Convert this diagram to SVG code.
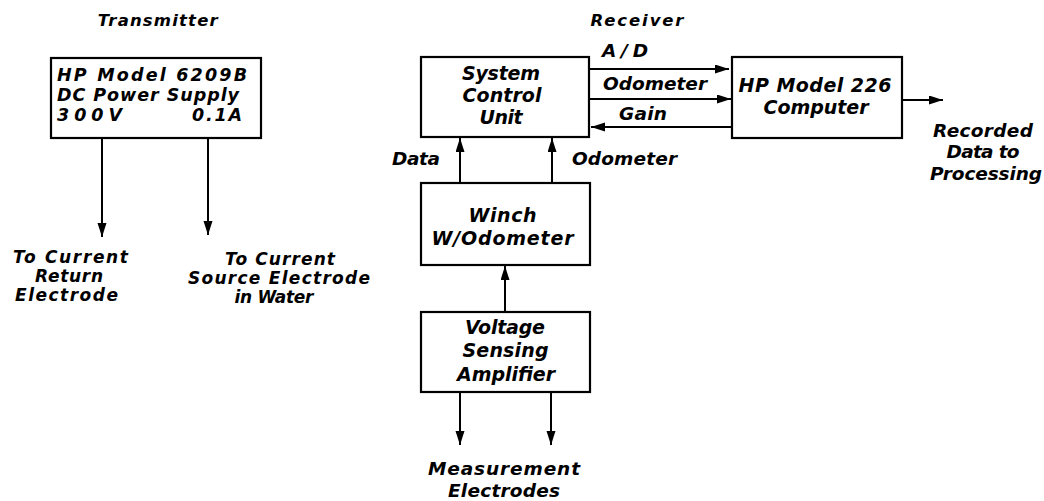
<svg xmlns="http://www.w3.org/2000/svg" width="1044" height="501" viewBox="0 0 1044 501">
<defs>
<marker id="ah" markerUnits="userSpaceOnUse" markerWidth="15" markerHeight="10" refX="14" refY="4.5" orient="auto">
<path d="M0,0 L14,4.5 L0,9 z" fill="#000"/>
</marker>
<style>
text{font-family:"DejaVu Sans","Liberation Sans",sans-serif;font-weight:bold;font-style:italic;fill:#000}
.hd{font-size:16.5px}
.bx{font-size:19px}
.bt{font-size:17.5px}
.lb{font-size:18.5px}
.ls{font-size:17px}
.c{text-anchor:middle}
rect{fill:#fff;stroke:#000;stroke-width:2.2}
.w line{stroke:#000;stroke-width:2;marker-end:url(#ah)}
</style>
</defs>
<rect x="0" y="0" width="1044" height="501" style="fill:#fff;stroke:none"/>

<g id="headers">
<text class="hd c" x="157.7" y="26" textLength="120" lengthAdjust="spacing">Transmitter</text>
<text class="hd c" x="637" y="26" textLength="93" lengthAdjust="spacing">Receiver</text>
</g>

<g id="connectors" class="w">
<line x1="102" y1="138" x2="102" y2="237"/>
<line x1="208" y1="138" x2="208" y2="235"/>
<line x1="589" y1="69" x2="729" y2="69"/>
<line x1="589" y1="99" x2="731" y2="99"/>
<line x1="732" y1="127" x2="591" y2="127"/>
<line x1="902" y1="100" x2="943" y2="100"/>
<line x1="460" y1="183" x2="460" y2="138"/>
<line x1="552" y1="183" x2="552" y2="138"/>
<line x1="505" y1="312" x2="505" y2="266"/>
<line x1="460" y1="392" x2="460" y2="445"/>
<line x1="551" y1="392" x2="551" y2="445"/>
</g>

<g id="power-supply">
<rect x="51" y="58" width="210" height="80"/>
<text class="bt" x="57" y="81" textLength="190" lengthAdjust="spacing">HP Model 6209B</text>
<text class="bt" x="57" y="101" textLength="182" lengthAdjust="spacing">DC Power Supply</text>
<text class="bt" x="57" y="121" textLength="65" lengthAdjust="spacing">300V</text>
<text class="bt" x="192" y="121" textLength="50" lengthAdjust="spacing">0.1A</text>
</g>

<g id="label-return">
<text class="ls c" x="70.5" y="263" textLength="115" lengthAdjust="spacing">To Current</text>
<text class="ls c" x="69" y="282" textLength="68" lengthAdjust="spacing">Return</text>
<text class="ls c" x="66.5" y="301" textLength="103" lengthAdjust="spacing">Electrode</text>
</g>

<g id="label-source">
<text class="ls c" x="280" y="265" textLength="110" lengthAdjust="spacing">To Current</text>
<text class="ls c" x="279" y="284" textLength="182" lengthAdjust="spacing">Source Electrode</text>
<text class="ls c" x="274" y="303" textLength="79" lengthAdjust="spacing">in Water</text>
</g>

<g id="system-control-unit">
<rect x="421" y="57" width="168" height="80"/>
<text class="bx c" x="501" y="80" textLength="78" lengthAdjust="spacing">System</text>
<text class="bx c" x="502" y="102" textLength="79" lengthAdjust="spacing">Control</text>
<text class="bx c" x="501" y="124" textLength="43" lengthAdjust="spacing">Unit</text>
</g>

<g id="computer">
<rect x="732" y="57" width="170" height="81"/>
<text class="bx c" x="815" y="92" textLength="153" lengthAdjust="spacing">HP Model 226</text>
<text class="bx c" x="816" y="114" textLength="105" lengthAdjust="spacing">Computer</text>
</g>

<g id="link-labels">
<text class="lb" x="602" y="57" textLength="46" lengthAdjust="spacing">A/D</text>
<text class="lb" x="603" y="90" textLength="104" lengthAdjust="spacing">Odometer</text>
<text class="lb" x="619" y="120" textLength="48" lengthAdjust="spacing">Gain</text>
<text class="lb" x="392" y="165" textLength="48" lengthAdjust="spacing">Data</text>
<text class="lb" x="572" y="165" textLength="105" lengthAdjust="spacing">Odometer</text>
</g>

<g id="label-recorded">
<text class="lb c" x="983" y="137" textLength="100" lengthAdjust="spacing">Recorded</text>
<text class="lb c" x="983" y="158" textLength="73" lengthAdjust="spacing">Data to</text>
<text class="lb c" x="986" y="180" textLength="112" lengthAdjust="spacing">Processing</text>
</g>

<g id="winch">
<rect x="421" y="183" width="169" height="82"/>
<text class="bx c" x="502.5" y="222" textLength="68" lengthAdjust="spacing">Winch</text>
<text class="bx c" x="502.5" y="245" textLength="142" lengthAdjust="spacing">W/Odometer</text>
</g>

<g id="amplifier">
<rect x="421" y="312" width="169" height="80"/>
<text class="bx c" x="505" y="334" textLength="80" lengthAdjust="spacing">Voltage</text>
<text class="bx c" x="505.5" y="357" textLength="86" lengthAdjust="spacing">Sensing</text>
<text class="bx c" x="506" y="381" textLength="98" lengthAdjust="spacing">Amplifier</text>
</g>

<g id="label-measurement">
<text class="lb c" x="504" y="475" textLength="152" lengthAdjust="spacing">Measurement</text>
<text class="lb c" x="504" y="497" textLength="112" lengthAdjust="spacing">Electrodes</text>
</g>
</svg>
